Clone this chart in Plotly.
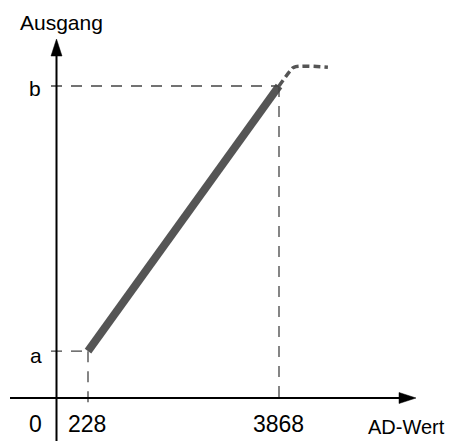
import plotly.graph_objects as go

# ---- data ----
ad_values = [228, 3868]            # AD-Wert at lower / upper limit
output_levels = [0.15, 1.0]        # relative output: a, b
level_labels = ["a", "b"]
x_tick_labels = ["0", "228", "3868"]
sat_x = [3868, 4080, 4150, 4800]   # dashed saturation continuation
sat_y = [1.0, 1.048, 1.06, 1.06]

W, H = 451, 441
# pixel <-> data mapping (schematic)
SX = 191 / (ad_values[1] - ad_values[0])
X0PX = 88
def px2x(p):
    return ad_values[0] + (p - X0PX) / SX
AXIS_Y_PX = 398
SY = (AXIS_Y_PX - 86) / output_levels[1]
def px2y(p):
    return (AXIS_Y_PX - p) / SY

FONT = "Liberation Sans, Arial, sans-serif"
fig = go.Figure()

# main characteristic
fig.add_trace(go.Scatter(x=ad_values, y=output_levels, mode="lines",
                         line=dict(color="#555555", width=8),
                         hoverinfo="skip", showlegend=False))
# saturation dashed
fig.add_trace(go.Scatter(x=sat_x, y=sat_y, mode="lines",
                         line=dict(color="#555555", width=3.5, dash="7px,4px", shape="spline"),
                         hoverinfo="skip", showlegend=False))

shapes = []
dash_col = "#444444"
# guide lines
for xv, yv in zip(ad_values, output_levels):
    shapes.append(dict(type="line", xref="x", yref="y", x0=px2x(51), x1=xv, y0=yv, y1=yv,
                       line=dict(color=dash_col, width=1.3, dash="11px,9px")))
    shapes.append(dict(type="line", xref="x", yref="y", x0=xv, x1=xv, y0=yv, y1=px2y(406),
                       line=dict(color=dash_col, width=1.3, dash="11px,9px")))

AX_X = 56.5
# vertical axis
shapes.append(dict(type="line", xref="x", yref="y", x0=px2x(AX_X), x1=px2x(AX_X),
                   y0=px2y(441), y1=px2y(54), line=dict(color="black", width=2)))
shapes.append(dict(type="path", xref="x", yref="y",
                   path=f"M {px2x(AX_X)},{px2y(39)} L {px2x(AX_X-5.5)},{px2y(56)} L {px2x(AX_X+5.5)},{px2y(56)} Z",
                   fillcolor="black", line=dict(color="black", width=0.5)))
# horizontal axis
shapes.append(dict(type="line", xref="x", yref="y", x0=px2x(10), x1=px2x(402),
                   y0=0, y1=0, line=dict(color="black", width=2)))
shapes.append(dict(type="path", xref="x", yref="y",
                   path=f"M {px2x(416)},{px2y(AXIS_Y_PX)} L {px2x(399)},{px2y(AXIS_Y_PX-5.5)} L {px2x(399)},{px2y(AXIS_Y_PX+5.5)} Z",
                   fillcolor="black", line=dict(color="black", width=0.5)))

ann = []
def label(text, xpx, ypx, size=20):
    ann.append(dict(text=text, x=px2x(xpx), y=px2y(ypx), xref="x", yref="y",
                    showarrow=False, xanchor="center", yanchor="middle",
                    font=dict(family=FONT, size=size, color="black")))

label("Ausgang", 61, 22, 21)
label(level_labels[1], 35, 88, 21)
label(level_labels[0], 36, 355, 21)
label(x_tick_labels[0], 35, 424, 23)
label(x_tick_labels[1], 87, 424, 23)
label(x_tick_labels[2], 278, 424, 23)
label("AD-Wert", 406, 427, 20)

fig.update_layout(width=W, height=H, margin=dict(l=0, r=0, t=0, b=0),
                  paper_bgcolor="white", plot_bgcolor="white",
                  shapes=shapes, annotations=ann,
                  xaxis=dict(range=[px2x(0), px2x(W)], visible=False, fixedrange=True),
                  yaxis=dict(range=[px2y(H), px2y(0)], visible=False, fixedrange=True),
                  showlegend=False)
fig.write_html("out.html", config={"displayModeBar": False},
               post_script="document.body.style.margin='0';document.body.style.padding='0';document.body.style.overflow='hidden';")
